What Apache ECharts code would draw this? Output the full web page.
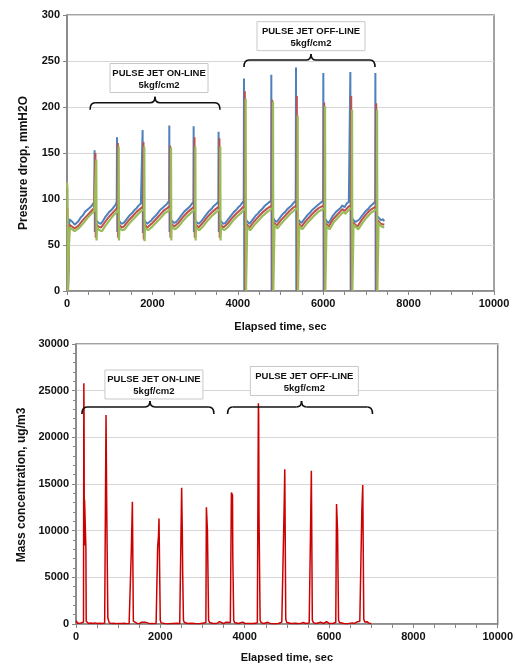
<!DOCTYPE html>
<html><head><meta charset="utf-8">
<script src="https://cdn.jsdelivr.net/npm/echarts@6/dist/echarts.min.js"></script>
<style>html,body{margin:0;padding:0;background:#fff}#c{width:516px;height:664px}</style>
</head><body><div id="c"></div>
<script>
// ---------- DATA ----------
// Pressure drop (mmH2O) vs elapsed time (sec), three measurement traces
const pdBlue = [
[0,80],[15,75],[25,0],[40,0],[55,78],[90,76],[130,75],[180,72],[220,74],[270,76],[320,80],[370,82],[420,86],[470,88],[520,90],[570,92],[610,94],[640,97],
[646,153],[652,64],[662,78],[700,76],[740,74],[790,73],[840,76],[890,80],[940,83],[990,86],[1040,88],[1090,91],[1140,94],[1165,97],
[1171,167],[1177,64],[1187,78],[1230,76],[1280,73],[1330,74],[1380,77],[1430,80],[1480,83],[1530,85],[1580,88],[1630,90],[1680,93],[1730,95],[1765,97],
[1771,175],[1777,63],[1787,78],[1830,76],[1880,73],[1930,75],[1980,77],[2030,80],[2080,82],[2130,85],[2180,88],[2230,90],[2280,92],[2330,94],[2390,98],
[2396,180],[2402,64],[2412,79],[2460,76],[2510,74],[2560,75],[2610,78],[2660,81],[2710,84],[2760,87],[2810,89],[2860,91],[2910,94],[2960,97],
[2966,179],[2972,64],[2982,78],[3030,75],[3080,73],[3130,75],[3180,78],[3230,81],[3280,84],[3330,87],[3380,89],[3430,92],[3480,94],[3544,97],
[3550,173],[3556,64],[3566,78],[3610,76],[3660,73],[3710,74],[3760,77],[3810,80],[3860,83],[3910,86],[3960,88],[4010,91],[4060,93],[4100,95],[4139,98],
[4145,231],[4152,0],[4170,0],[4180,78],[4220,76],[4270,73],[4320,76],[4370,79],[4420,82],[4470,84],[4520,87],[4570,89],[4620,92],[4670,94],[4720,96],[4779,98],
[4785,235],[4792,0],[4810,0],[4820,80],[4860,77],[4910,75],[4960,78],[5010,81],[5060,84],[5110,86],[5160,89],[5210,91],[5260,93],[5310,96],[5357,98],
[5363,243],[5370,0],[5388,0],[5398,79],[5440,76],[5490,74],[5540,77],[5590,80],[5640,83],[5690,85],[5740,88],[5790,90],[5840,92],[5890,94],[5940,96],[5997,98],
[6003,237],[6010,0],[6028,0],[6038,79],[6080,76],[6130,74],[6180,78],[6230,82],[6260,80],[6300,86],[6350,88],[6400,90],[6450,93],[6500,91],[6550,95],[6600,97],[6630,98],
[6636,238],[6643,0],[6661,0],[6671,80],[6710,77],[6760,75],[6800,74],[6850,78],[6900,81],[6950,84],[7000,87],[7050,89],[7100,92],[7150,94],[7216,97],
[7222,237],[7229,0],[7247,0],[7257,82],[7300,80],[7350,77],[7400,78],[7430,76]
];
const pdRed = [
[0,85],[12,90],[22,0],[42,0],[57,72],[100,71],[180,68],[270,71],[370,77],[470,82],[570,87],[630,90],[660,92],
[666,150],[672,58],[682,73],[740,70],[800,69],[890,75],[990,81],[1090,86],[1150,89],[1185,92],
[1191,161],[1197,58],[1207,73],[1280,69],[1330,70],[1430,76],[1530,81],[1630,86],[1730,90],[1785,92],
[1791,162],[1797,56],[1807,73],[1880,69],[1980,73],[2080,78],[2180,83],[2280,88],[2350,90],[2410,93],
[2416,158],[2422,58],[2432,74],[2510,70],[2610,74],[2710,80],[2810,85],[2910,89],[2980,92],
[2986,167],[2992,58],[3002,73],[3080,69],[3180,74],[3280,80],[3380,85],[3480,89],[3564,92],
[3570,166],[3576,58],[3586,73],[3660,69],[3760,73],[3860,79],[3960,84],[4060,88],[4159,93],
[4165,217],[4172,0],[4190,0],[4200,73],[4270,69],[4370,75],[4470,80],[4570,85],[4670,89],[4799,93],
[4805,208],[4812,0],[4830,0],[4840,75],[4910,71],[5010,77],[5110,82],[5210,87],[5310,91],[5377,93],
[5383,212],[5390,0],[5408,0],[5418,74],[5490,70],[5590,76],[5690,81],[5790,86],[5890,90],[6017,93],
[6023,205],[6030,0],[6048,0],[6058,74],[6130,70],[6230,78],[6260,76],[6350,84],[6450,89],[6500,87],[6600,92],[6650,93],
[6656,212],[6663,0],[6681,0],[6691,75],[6800,70],[6900,77],[7000,83],[7100,88],[7236,92],
[7242,204],[7249,0],[7267,0],[7277,77],[7350,73],[7430,72]
];
const pdGreen = [
[0,118],[12,110],[22,0],[42,0],[57,69],[100,67],[180,65],[270,68],[370,73],[470,79],[570,84],[640,87],[680,89],
[686,143],[692,55],[702,69],[760,66],[820,65],[900,71],[1000,77],[1100,83],[1170,86],[1205,89],
[1211,157],[1217,55],[1227,69],[1290,66],[1350,67],[1450,73],[1550,78],[1650,83],[1740,87],[1805,89],
[1811,157],[1817,54],[1827,69],[1900,66],[2000,70],[2100,75],[2200,80],[2300,85],[2370,87],[2430,90],
[2436,156],[2442,55],[2452,70],[2530,67],[2630,71],[2730,77],[2830,82],[2930,86],[3000,89],
[3006,157],[3012,55],[3022,69],[3100,66],[3200,71],[3300,77],[3400,82],[3500,86],[3584,89],
[3590,157],[3596,55],[3606,69],[3680,66],[3780,70],[3880,76],[3980,81],[4080,85],[4179,90],
[4185,209],[4192,0],[4210,0],[4220,70],[4290,66],[4390,72],[4490,77],[4590,82],[4690,86],[4819,90],
[4825,206],[4832,0],[4850,0],[4860,72],[4930,68],[5030,74],[5130,79],[5230,84],[5330,88],[5397,90],
[5403,191],[5410,0],[5428,0],[5438,71],[5510,67],[5610,73],[5710,78],[5810,83],[5910,87],[6037,90],
[6043,201],[6050,0],[6068,0],[6078,71],[6150,67],[6250,75],[6280,73],[6370,81],[6470,86],[6520,84],[6620,89],[6670,90],
[6676,197],[6683,0],[6701,0],[6711,72],[6820,67],[6920,74],[7020,80],[7120,85],[7256,89],
[7262,197],[7269,0],[7287,0],[7297,74],[7370,70],[7430,69]
];
// Mass concentration (ug/m3) vs elapsed time (sec)
const massConc = [
[0,350],[20,200],[40,80],[80,60],[120,100],[160,80],[178,200],
[186,25800],[191,22400],[197,8400],[203,13300],[228,13300],[235,8000],[242,300],[260,150],[300,60],[350,100],[400,50],[450,120],[500,60],[560,90],[620,60],[680,100],[700,250],
[712,22400],[722,22400],[728,12800],[748,12800],[755,700],[770,400],[790,120],[850,60],[900,80],[950,40],[1000,60],[1100,50],[1150,90],[1200,40],[1260,60],[1300,120],
[1312,7900],[1330,7900],[1337,13100],[1352,13100],[1360,300],[1380,100],[1450,60],[1500,40],[1560,200],[1600,80],[1640,200],[1680,60],[1750,40],[1800,60],[1850,40],[1900,80],[1928,200],
[1936,8200],[1950,8200],[1957,9500],[1968,11300],[1990,11300],[1998,400],[2020,120],[2100,60],[2200,40],[2300,60],[2400,80],[2460,40],[2495,150],
[2505,14600],[2515,14500],[2521,9800],[2530,5400],[2540,5400],[2548,400],[2570,150],[2650,60],[2750,80],[2850,40],[2950,60],[3030,100],[3080,150],
[3092,12500],[3110,12400],[3117,9960],[3135,9900],[3144,400],[3170,150],[3250,60],[3350,80],[3400,250],[3440,100],[3500,50],[3560,200],[3600,80],[3660,150],
[3685,14100],[3700,14000],[3711,13800],[3718,7300],[3730,7300],[3740,400],[3760,150],[3850,60],[3950,200],[4000,80],[4100,50],[4200,60],[4300,100],[4315,200],
[4325,23640],[4332,22500],[4339,11860],[4358,11860],[4366,400],[4390,150],[4450,60],[4550,180],[4600,60],[4700,40],[4800,60],[4880,200],[4925,300],
[4935,12300],[4945,12200],[4951,16570],[4964,16500],[4974,500],[5000,150],[5100,60],[5200,80],[5300,40],[5400,150],[5450,60],[5530,120],[5555,150],
[5565,11140],[5575,11100],[5581,16430],[5594,16400],[5604,400],[5630,150],[5700,60],[5800,180],[5880,60],[5940,250],[6000,60],[6100,80],[6160,150],
[6178,12860],[6193,12800],[6202,10070],[6216,10000],[6226,400],[6250,150],[6350,60],[6450,40],[6550,120],[6600,60],[6680,250],[6730,300],[6765,200],
[6778,12140],[6793,12100],[6800,14900],[6813,14900],[6824,500],[6850,200],[6900,250],[6950,80],[7000,50]
];
const seriesNames = ['Trace 1', 'Trace 2', 'Trace 3'];
const axisTitles = {
  time: 'Elapsed time, sec',
  pressure: 'Pressure drop, mmH2O',
  mass: 'Mass concentration, ug/m3'
};
const labelLines = {
  on: ['PULSE JET ON-LINE', '5kgf/cm2'],
  off: ['PULSE JET OFF-LINE', '5kgf/cm2']
};
// annotation anchors, in data units of each panel
const annotLabels = [
  {grid: 0, t: 2155, v: 231.5, key: 'on'},
  {grid: 0, t: 5714, v: 277, key: 'off'},
  {grid: 1, t: 1848, v: 25660, key: 'on'},
  {grid: 1, t: 5415, v: 26036, key: 'off'}
];
const annotBraces = [
  {grid: 0, t0: 540, t1: 3583, tm: 2061, v: 197},
  {grid: 0, t0: 4145, t1: 7213, tm: 5714, v: 243.5},
  {grid: 1, t0: 142, t1: 3270, tm: 1754, v: 22500},
  {grid: 1, t0: 3595, t1: 7031, tm: 5348, v: 22500}
];

// ---------- CHART ----------
const FONT = '"Liberation Sans", Arial, sans-serif';
const AX = '#858585';
const chart = echarts.init(document.getElementById('c'), null, {renderer: 'canvas'});
const plain = function (v) { return String(v); };

function xAxisCfg(gi, gap) {
  return {
    type: 'value', gridIndex: gi, min: 0, max: 10000, interval: 2000,
    name: axisTitles.time, nameLocation: 'middle', nameGap: gap,
    nameTextStyle: {fontFamily: FONT, fontWeight: 'bold', fontSize: 11, color: '#111'},
    axisLine: {onZero: false, lineStyle: {color: AX, width: 1.5}},
    axisTick: {show: true, length: 4, lineStyle: {color: AX}},
    minorTick: {show: true, splitNumber: 4, length: 4, lineStyle: {color: AX}},
    splitLine: {show: false},
    axisLabel: {fontFamily: FONT, fontWeight: 'bold', fontSize: 11, color: '#111', margin: 7, formatter: plain}
  };
}
function yAxisCfg(gi, max, interval, name, gap, minor, pad) {
  return {
    type: 'value', gridIndex: gi, min: 0, max: max, interval: interval,
    name: name, nameLocation: 'middle', nameGap: gap,
    nameTextStyle: {fontFamily: FONT, fontWeight: 'bold', fontSize: 12, color: '#111', padding: pad},
    axisLine: {show: true, lineStyle: {color: AX, width: 1.5}},
    axisTick: {show: true, length: 4, lineStyle: {color: AX}},
    minorTick: {show: minor, splitNumber: 5, length: 3, lineStyle: {color: AX}},
    splitLine: {show: true, lineStyle: {color: '#d6d6d6', width: 1}},
    axisLabel: {fontFamily: FONT, fontWeight: 'bold', fontSize: 11, color: '#111', margin: 7, formatter: plain}
  };
}

const option = {
  animation: false,
  backgroundColor: '#fff',
  grid: [
    {left: 67, top: 15, width: 427, height: 276, show: true, borderColor: AX, borderWidth: 1.5, backgroundColor: 'transparent'},
    {left: 76, top: 344, width: 422, height: 280, show: true, borderColor: AX, borderWidth: 1.5, backgroundColor: 'transparent'}
  ],
  xAxis: [xAxisCfg(0, 30), xAxisCfg(1, 28)],
  yAxis: [
    yAxisCfg(0, 300, 50, axisTitles.pressure, 37, false, [0, 20, 0, 0]),
    yAxisCfg(1, 30000, 5000, axisTitles.mass, 48, true, [0, 2, 0, 0])
  ],
  series: [
    {name: seriesNames[0], type: 'line', xAxisIndex: 0, yAxisIndex: 0, data: pdBlue, showSymbol: false, symbol: 'none',
     lineStyle: {color: '#4f81bd', width: 2}, itemStyle: {color: '#4f81bd'}},
    {name: seriesNames[1], type: 'line', xAxisIndex: 0, yAxisIndex: 0, data: pdRed, showSymbol: false, symbol: 'none',
     lineStyle: {color: '#c0504d', width: 2}, itemStyle: {color: '#c0504d'}},
    {name: seriesNames[2], type: 'line', xAxisIndex: 0, yAxisIndex: 0, data: pdGreen, showSymbol: false, symbol: 'none',
     lineStyle: {color: '#9bbb59', width: 2.2}, itemStyle: {color: '#9bbb59'}},
    {name: 'Mass concentration', type: 'line', xAxisIndex: 1, yAxisIndex: 1, data: massConc, showSymbol: false, symbol: 'none',
     lineStyle: {color: '#cc0000', width: 1.5}, itemStyle: {color: '#cc0000'}}
  ]
};
chart.setOption(option);

// annotations: boxes + braces positioned through the axes
const graphics = [];
const bStyle = {fill: null, stroke: '#111', lineWidth: 1.6};
annotBraces.forEach(function (b) {
  const p0 = chart.convertToPixel({gridIndex: b.grid}, [b.t0, b.v]);
  const p1 = chart.convertToPixel({gridIndex: b.grid}, [b.t1, b.v]);
  const pm = chart.convertToPixel({gridIndex: b.grid}, [b.tm, b.v]);
  const yt = p0[1], yl = yt - 7, yp = yt - 13;
  const x0 = p0[0], x1 = p1[0], xm = pm[0];
  const r = 5;
  graphics.push({type: 'bezierCurve', z: 100, shape: {x1: x0, y1: yt, cpx1: x0, cpy1: yl, x2: x0 + r, y2: yl}, style: bStyle});
  graphics.push({type: 'line', z: 100, shape: {x1: x0 + r, y1: yl, x2: xm - r, y2: yl}, style: bStyle});
  graphics.push({type: 'bezierCurve', z: 100, shape: {x1: xm - r, y1: yl, cpx1: xm, cpy1: yl, x2: xm, y2: yp}, style: bStyle});
  graphics.push({type: 'bezierCurve', z: 100, shape: {x1: xm, y1: yp, cpx1: xm, cpy1: yl, x2: xm + r, y2: yl}, style: bStyle});
  graphics.push({type: 'line', z: 100, shape: {x1: xm + r, y1: yl, x2: x1 - r, y2: yl}, style: bStyle});
  graphics.push({type: 'bezierCurve', z: 100, shape: {x1: x1 - r, y1: yl, cpx1: x1, cpy1: yl, x2: x1, y2: yt}, style: bStyle});
});
annotLabels.forEach(function (a) {
  const p = chart.convertToPixel({gridIndex: a.grid}, [a.t, a.v]);
  const w = a.key === 'on' ? 98 : 108, h = 29;
  graphics.push({type: 'rect', shape: {x: p[0] - w / 2, y: p[1] - h / 2, width: w, height: h},
    style: {fill: '#fff', stroke: '#c8c8c8', lineWidth: 1}, z: 100});
  graphics.push({type: 'text', z: 101, style: {
    text: labelLines[a.key].join('\n'), x: p[0], y: p[1] + 1,
    textAlign: 'center', textVerticalAlign: 'middle',
    font: 'bold 9.5px ' + FONT, fill: '#111', lineHeight: 12}});
});
chart.setOption({graphic: graphics});
</script>
</body></html>
